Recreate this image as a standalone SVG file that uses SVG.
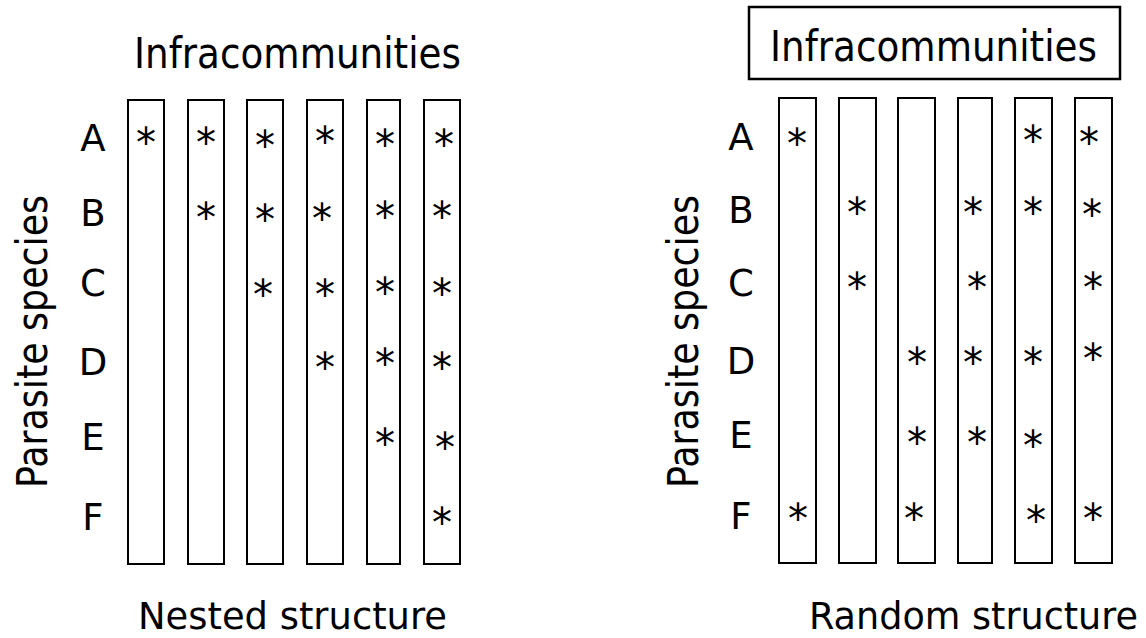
<svg xmlns="http://www.w3.org/2000/svg" width="1146" height="638" viewBox="0 0 1146 638">
<style>
.t{font-family:"DejaVu Sans","Liberation Sans",sans-serif;fill:#000}
.title{font-size:42px}
.foot{font-size:36.5px}
.lab{font-size:37px;text-anchor:middle}
.col{fill:none;stroke:#000;stroke-width:2}
.ast{font-family:"DejaVu Sans",sans-serif;font-size:40px;text-anchor:middle}
</style>
<rect width="1146" height="638" fill="#fff"/>
<g id="left-panel">
<text class="t title" x="134" y="68" textLength="327" lengthAdjust="spacingAndGlyphs">Infracommunities</text>
<text class="t title" transform="translate(47,488) rotate(-90)" textLength="293" lengthAdjust="spacingAndGlyphs">Parasite species</text>
<text class="t lab" x="93" y="151">A</text>
<text class="t lab" x="93" y="226">B</text>
<text class="t lab" x="93" y="296">C</text>
<text class="t lab" x="93" y="375">D</text>
<text class="t lab" x="93" y="450">E</text>
<text class="t lab" x="93" y="530">F</text>
<g id="nested-cols">
<rect class="col" x="128" y="100" width="36" height="464"/>
<rect class="col" x="188" y="100" width="36" height="464"/>
<rect class="col" x="247" y="100" width="36" height="464"/>
<rect class="col" x="307" y="100" width="36" height="464"/>
<rect class="col" x="367" y="100" width="33" height="464"/>
<rect class="col" x="424" y="100" width="36" height="464"/>
</g>
<g id="nested-marks" class="t ast">
<text x="146" y="157">*</text>
<text x="206" y="157">*</text><text x="206" y="232">*</text>
<text x="265" y="160">*</text><text x="265" y="234">*</text><text x="263" y="309">*</text>
<text x="325" y="156">*</text><text x="322" y="233">*</text><text x="325" y="309">*</text><text x="325" y="382">*</text>
<text x="385" y="159">*</text><text x="385" y="231">*</text><text x="385" y="307">*</text><text x="385" y="378">*</text><text x="385" y="458">*</text>
<text x="444" y="159">*</text><text x="442" y="231">*</text><text x="442" y="308">*</text><text x="442" y="382">*</text><text x="445" y="462">*</text><text x="442" y="537">*</text>
</g>
<text class="t foot" x="138" y="629" textLength="309" lengthAdjust="spacingAndGlyphs">Nested structure</text>
</g>
<g id="right-panel">
<rect x="749" y="7" width="371" height="72" fill="none" stroke="#000" stroke-width="2.5"/>
<text class="t title" x="770" y="61" textLength="327" lengthAdjust="spacingAndGlyphs">Infracommunities</text>
<text class="t title" transform="translate(698,488) rotate(-90)" textLength="293" lengthAdjust="spacingAndGlyphs">Parasite species</text>
<text class="t lab" x="741" y="150">A</text>
<text class="t lab" x="741" y="223">B</text>
<text class="t lab" x="741" y="296">C</text>
<text class="t lab" x="741" y="374">D</text>
<text class="t lab" x="741" y="448">E</text>
<text class="t lab" x="741" y="529">F</text>
<g id="random-cols">
<rect class="col" x="779" y="98" width="37" height="465"/>
<rect class="col" x="839" y="98" width="37" height="465"/>
<rect class="col" x="898" y="98" width="37" height="465"/>
<rect class="col" x="958" y="98" width="34" height="465"/>
<rect class="col" x="1015" y="98" width="37" height="465"/>
<rect class="col" x="1075" y="98" width="37" height="465"/>
</g>
<g id="random-marks" class="t ast">
<text x="797" y="158">*</text><text x="798" y="533">*</text>
<text x="857" y="227">*</text><text x="857" y="302">*</text>
<text x="917" y="377">*</text><text x="917" y="457">*</text><text x="914" y="533">*</text>
<text x="973" y="227">*</text><text x="977" y="302">*</text><text x="973" y="377">*</text><text x="977" y="457">*</text>
<text x="1033" y="155">*</text><text x="1033" y="227">*</text><text x="1033" y="377">*</text><text x="1033" y="460">*</text><text x="1036" y="535">*</text>
<text x="1089" y="157">*</text><text x="1092" y="229">*</text><text x="1093" y="302">*</text><text x="1093" y="373">*</text><text x="1093" y="533">*</text>
</g>
<text class="t foot" x="809" y="629" textLength="329" lengthAdjust="spacingAndGlyphs">Random structure</text>
</g>
</svg>
